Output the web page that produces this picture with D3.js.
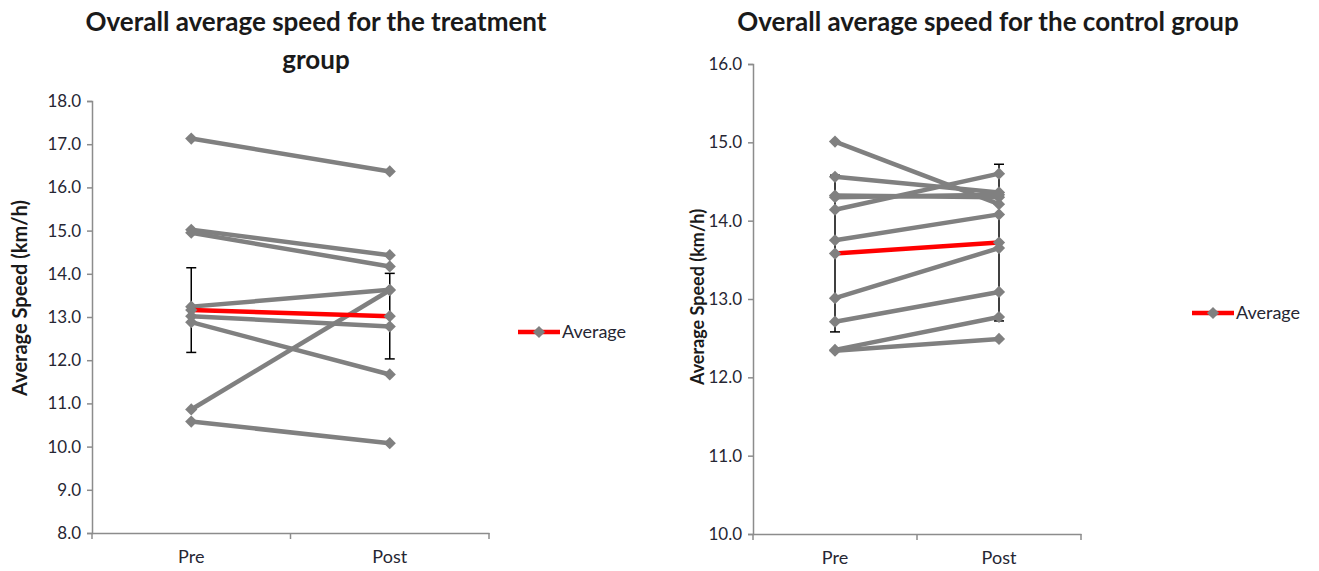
<!DOCTYPE html>
<html>
<head>
<meta charset="utf-8">
<script src="https://cdn.jsdelivr.net/npm/d3@7"></script>
<style>
  body { margin: 0; background: #fff; }
  svg { display: block; }
  text { font-family: Lato, "Open Sans", sans-serif; }
</style>
</head>
<body>
<div id="chart"></div>
<script>
// categories on the x axis
const phases = ["Pre", "Post"];

// treatment group: one [pre, post] pair per participant
const treatmentSubjects = [
  [17.13, 16.37],
  [15.02, 14.43],
  [14.95, 14.17],
  [13.24, 13.63],
  [13.02, 12.78],
  [12.88, 11.67],
  [10.86, 13.62],
  [10.58, 10.08]
];
const treatmentAverage = [13.16, 13.02];
const treatmentError = [0.98, 0.99];
const treatmentTicks = [8, 9, 10, 11, 12, 13, 14, 15, 16, 17, 18];

// control group
const controlSubjects = [
  [15.01, 14.21],
  [14.56, 14.36],
  [14.32, 14.30],
  [14.30, 14.33],
  [14.14, 14.60],
  [13.75, 14.08],
  [13.01, 13.65],
  [12.71, 13.09],
  [12.35, 12.77],
  [12.34, 12.49]
];
const controlAverage = [13.58, 13.72];
const controlError = [1.0, 1.0];
const controlTicks = [10, 11, 12, 13, 14, 15, 16];

const W = 1319, H = 571;
const svg = d3.select("#chart").append("svg")
  .attr("width", W)
  .attr("height", H);

const grey = "#808080";
const axisGrey = "#8c8c8c";
const textColor = "#262633";
const diamond = d3.symbol().type(d3.symbolDiamond2).size(95);

function drawPanel(opts) {
  const { left, right, top, bottom, ticks, subjects, average, error, titleLines, titleX, titleY,
    labelX, labelY, labelSize, legendX, legendY } = opts;

  const g = svg.append("g");

  const x = d3.scaleBand()
    .domain(phases)
    .range([left, right]);

  const y = d3.scaleLinear()
    .domain(d3.extent(ticks))
    .range([bottom, top]);

  // title
  const title = g.append("text")
    .attr("x", titleX)
    .attr("y", titleY)
    .attr("text-anchor", "middle")
    .style("font-size", "26px")
    .style("font-weight", 700)
    .attr("fill", "#1a1a1a");
  titleLines.forEach((t, i) => {
    title.append("tspan").attr("x", titleX).attr("dy", i === 0 ? 0 : 38).text(t);
  });

  // y axis
  const yAxis = g.append("g")
    .attr("transform", `translate(${left},0)`)
    .call(d3.axisLeft(y).tickValues(ticks).tickFormat(d3.format(".1f")).tickSizeOuter(0).tickSize(5).tickPadding(6));
  yAxis.select(".domain").attr("stroke", axisGrey).attr("stroke-width", 1.5);
  yAxis.selectAll(".tick line").attr("stroke", axisGrey).attr("stroke-width", 1.5);
  yAxis.selectAll("text")
    .attr("fill", textColor)
    .style("font-size", "17px")
    .style("font-family", "Lato, sans-serif");

  // x axis: labels at band centers, ticks at band edges
  const xAxis = g.append("g")
    .attr("transform", `translate(0,${bottom})`)
    .call(d3.axisBottom(x).tickSize(0).tickPadding(17).tickSizeOuter(0));
  xAxis.select(".domain").attr("stroke", axisGrey).attr("stroke-width", 1.5);
  xAxis.selectAll("text")
    .attr("fill", textColor)
    .style("font-size", "18px")
    .style("font-family", "Lato, sans-serif");
  const edges = phases.map(p => x(p)).concat([x.range()[1]]);
  xAxis.selectAll("line.edge")
    .data(edges)
    .enter()
    .append("line")
    .attr("class", "edge")
    .attr("x1", d => d).attr("x2", d => d)
    .attr("y1", 0).attr("y2", 6)
    .attr("stroke", axisGrey)
    .attr("stroke-width", 1.5);

  // y axis title
  g.append("text")
    .attr("transform", `translate(${labelX},${labelY}) rotate(-90)`)
    .attr("text-anchor", "middle")
    .attr("dy", "0.35em")
    .style("font-size", labelSize + "px")
    .style("font-weight", 700)
    .attr("fill", "#1a1a1a")
    .text("Average Speed (km/h)");

  const cx = p => x(p) + x.bandwidth() / 2;

  // error bars of the average
  const errG = g.append("g").attr("stroke", "#000").attr("stroke-width", 1.5);
  phases.forEach((p, i) => {
    const lo = y(average[i] - error[i]);
    const hi = y(average[i] + error[i]);
    errG.append("line").attr("x1", cx(p)).attr("x2", cx(p)).attr("y1", lo).attr("y2", hi);
    errG.append("line").attr("x1", cx(p) - 5).attr("x2", cx(p) + 5).attr("y1", lo).attr("y2", lo);
    errG.append("line").attr("x1", cx(p) - 5).attr("x2", cx(p) + 5).attr("y1", hi).attr("y2", hi);
  });

  const line = d3.line()
    .x((d, i) => cx(phases[i]))
    .y(d => y(d));

  // individual participants
  subjects.forEach(s => {
    g.append("path")
      .attr("d", line(s))
      .attr("fill", "none")
      .attr("stroke", grey)
      .attr("stroke-width", 4.5);
    g.selectAll(null)
      .data(s)
      .enter()
      .append("path")
      .attr("d", diamond)
      .attr("transform", (d, i) => `translate(${cx(phases[i])},${y(d)})`)
      .attr("fill", grey);
  });

  // average line
  g.append("path")
    .attr("d", line(average))
    .attr("fill", "none")
    .attr("stroke", "#ff0000")
    .attr("stroke-width", 4.5);
  g.selectAll(null)
    .data(average)
    .enter()
    .append("path")
    .attr("d", diamond)
    .attr("transform", (d, i) => `translate(${cx(phases[i])},${y(d)})`)
    .attr("fill", grey);

  // legend
  const lg = g.append("g").attr("transform", `translate(${legendX},${legendY})`);
  lg.append("line").attr("x1", 0).attr("x2", 42).attr("y1", 0).attr("y2", 0)
    .attr("stroke", "#ff0000").attr("stroke-width", 4.5);
  lg.append("path").attr("d", diamond).attr("transform", "translate(21,0)").attr("fill", grey);
  lg.append("text").attr("x", 44).attr("y", 0).attr("dy", "0.35em")
    .style("font-size", "18px")
    .attr("fill", textColor)
    .text("Average");
}

drawPanel({
  left: 92, right: 489, top: 101, bottom: 533,
  ticks: treatmentTicks,
  subjects: treatmentSubjects,
  average: treatmentAverage,
  error: treatmentError,
  titleLines: ["Overall average speed for the treatment", "group"],
  titleX: 316, titleY: 31,
  labelX: 20, labelY: 298, labelSize: 20,
  legendX: 518, legendY: 332
});

drawPanel({
  left: 753, right: 1081, top: 64, bottom: 534,
  ticks: controlTicks,
  subjects: controlSubjects,
  average: controlAverage,
  error: controlError,
  titleLines: ["Overall average speed for the control group"],
  titleX: 988, titleY: 31,
  labelX: 698, labelY: 297, labelSize: 18,
  legendX: 1192, legendY: 313
});
</script>
</body>
</html>
